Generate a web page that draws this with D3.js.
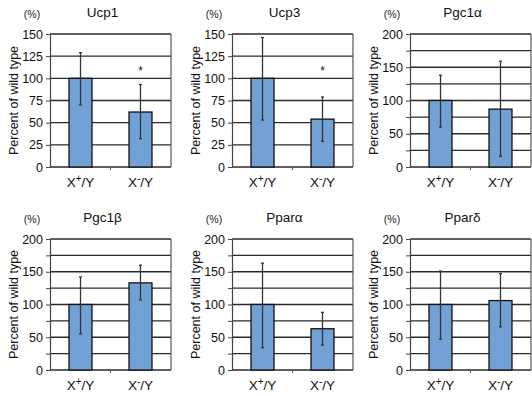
<!DOCTYPE html>
<html>
<head>
<meta charset="utf-8">
<script src="https://cdn.jsdelivr.net/npm/d3@7"></script>
<style>
  body { margin: 0; background: #fff; }
  svg { display: block; font-family: "Liberation Sans", Arial, Helvetica, sans-serif; }
</style>
</head>
<body>
<script>
// gene panels, left to right, top to bottom
const genes = ["Ucp1", "Ucp3", "Pgc1α", "Pgc1β", "Pparα", "Pparδ"];
const genotypes = ["+", "-"]; // X?/Y
const means = [[100, 62], [100, 54], [100, 87], [100, 133], [100, 63], [100, 106]];
const errLow = [[70, 32], [53, 29], [60, 16], [55, 107], [34, 38], [47, 66]];
const errHigh = [[129, 93], [146, 79], [138, 159], [142, 160], [163, 88], [151, 147]];
const yMax = [150, 150, 200, 200, 200, 200];
const labelStep = [25, 25, 50, 50, 50, 50];
const gridStep = 25;
const starred = [[false, true], [false, true], [false, false], [false, false], [false, false], [false, false]];
const starAt = 110;

const W = 532, H = 396;
const colLeft = [50, 232, 410];
const rowTop = [34, 239];
const rowBottom = [167, 370];
const plotW = 121;

const svg = d3.select("body").append("svg")
    .attr("width", W)
    .attr("height", H);

genes.forEach((gene, i) => {
    const left = colLeft[i % 3];
    const top = rowTop[Math.floor(i / 3)];
    const bottom = rowBottom[Math.floor(i / 3)];
    const h = bottom - top;

    const g = svg.append("g").attr("transform", `translate(${left},${top})`);

    const x = d3.scaleBand()
        .domain(genotypes)
        .range([0, plotW])
        .paddingInner(0.617)
        .paddingOuter(0.317);
    const y = d3.scaleLinear()
        .domain([0, yMax[i]])
        .range([h, 0]);

    const gridVals = d3.range(0, yMax[i] + 1, gridStep);

    // horizontal grid
    g.append("g")
        .selectAll("line")
        .data(gridVals)
        .join("line")
            .attr("x1", 0)
            .attr("x2", plotW)
            .attr("y1", d => y(d))
            .attr("y2", d => y(d))
            .attr("stroke", "#2a2a2a")
            .attr("stroke-width", 1.4);

    // right border
    g.append("line")
        .attr("x1", plotW).attr("x2", plotW)
        .attr("y1", 0).attr("y2", h)
        .attr("stroke", "#555")
        .attr("stroke-width", 1.2);

    // bars
    g.append("g")
        .selectAll("rect")
        .data(genotypes)
        .join("rect")
            .attr("x", d => x(d))
            .attr("y", (d, j) => y(means[i][j]))
            .attr("width", x.bandwidth())
            .attr("height", (d, j) => y(0) - y(means[i][j]))
            .attr("fill", "#72a2d5")
            .attr("stroke", "#111")
            .attr("stroke-width", 1.3);

    // error bars
    const eb = g.append("g")
        .selectAll("g")
        .data(genotypes)
        .join("g")
            .attr("transform", d => `translate(${x(d) + x.bandwidth() / 2},0)`)
            .attr("stroke", "#333")
            .attr("stroke-width", 1.3);
    eb.append("line")
        .attr("y1", (d, j) => y(errLow[i][j]))
        .attr("y2", (d, j) => y(errHigh[i][j]));
    eb.append("line")
        .attr("x1", -1.5).attr("x2", 1.5)
        .attr("y1", (d, j) => y(errHigh[i][j]))
        .attr("y2", (d, j) => y(errHigh[i][j]));
    eb.append("line")
        .attr("x1", -1.5).attr("x2", 1.5)
        .attr("y1", (d, j) => y(errLow[i][j]))
        .attr("y2", (d, j) => y(errLow[i][j]));

    // significance stars
    g.append("g")
        .selectAll("text")
        .data(genotypes.filter((d, j) => starred[i][j]))
        .join("text")
            .attr("x", d => x(d) + x.bandwidth() / 2)
            .attr("y", y(starAt) + 6)
            .attr("text-anchor", "middle")
            .attr("font-size", 12)
            .attr("fill", "#111")
            .text("*");

    // y axis
    const yAxis = g.append("g")
        .call(d3.axisLeft(y)
            .tickValues(gridVals)
            .tickFormat(d => d % labelStep[i] === 0 ? d : "")
            .tickSize(4)
            .tickPadding(3)
            .tickSizeOuter(0));
    yAxis.select(".domain").attr("stroke", "#444").attr("stroke-width", 1.2);
    yAxis.selectAll(".tick line").attr("stroke", "#444");
    yAxis.selectAll(".tick text")
        .attr("font-size", 12.5)
        .attr("fill", "#111");

    // x axis
    const xAxis = g.append("g")
        .attr("transform", `translate(0,${h})`)
        .call(d3.axisBottom(x).tickSize(0).tickFormat(""));
    xAxis.select(".domain").remove();
    xAxis.selectAll(".tick text").remove();
    xAxis.selectAll(".tick")
        .append("text")
            .attr("y", 20)
            .attr("text-anchor", "middle")
            .attr("fill", "#111")
            .attr("font-size", 13.5)
            .each(function(d) {
                const t = d3.select(this);
                t.append("tspan").text("X");
                t.append("tspan")
                    .attr("font-size", 10)
                    .attr("dy", -5)
                    .text(d);
                t.append("tspan").attr("dy", 5).text("/Y");
            });
    // category boundary tick
    const mid = (x(genotypes[0]) + x.bandwidth() + x(genotypes[1])) / 2;
    xAxis.append("line")
        .attr("x1", mid).attr("x2", mid)
        .attr("y1", 0).attr("y2", 3)
        .attr("stroke", "#555");

    // title
    g.append("text")
        .attr("x", plotW / 2 - 8)
        .attr("y", -17)
        .attr("text-anchor", "middle")
        .attr("font-size", 13.5)
        .attr("fill", "#111")
        .text(gene);

    // unit
    g.append("text")
        .attr("x", -18)
        .attr("y", -16)
        .attr("text-anchor", "middle")
        .attr("font-size", 10.5)
        .attr("fill", "#222")
        .text("(%)");

    // y label
    g.append("text")
        .attr("transform", `translate(-32,${h / 2}) rotate(-90)`)
        .attr("text-anchor", "middle")
        .attr("font-size", 12.5)
        .attr("fill", "#111")
        .text("Percent of wild type");
});
</script>
</body>
</html>
